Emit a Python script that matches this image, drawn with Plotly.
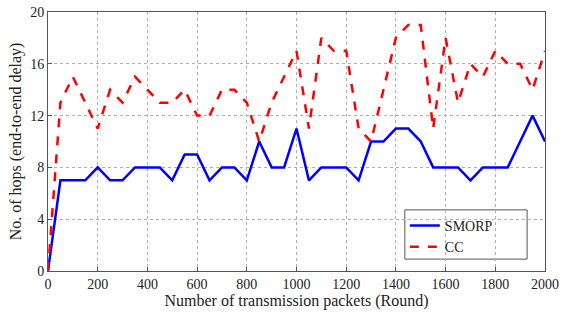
import plotly.graph_objects as go

rounds = list(range(0, 2001, 50))
smorp = [0, 7, 7, 7, 8, 7, 7, 8, 8, 8, 7, 9, 9, 7, 8, 8, 7, 10, 8, 8, 11,
         7, 8, 8, 8, 7, 10, 10, 11, 11, 10, 8, 8, 8, 7, 8, 8, 8, 10, 12, 10]
cc = [0, 13, 15, 13, 11, 14, 13, 15, 14, 13, 13, 14, 12, 12, 14, 14, 13, 10, 13, 15, 17,
      11, 18, 17, 17, 11, 10, 14, 18, 19, 19, 11, 18, 13, 16, 15, 17, 16, 16, 14, 17]
x_ticks = list(range(0, 2001, 200))
y_ticks = [0, 4, 8, 12, 16, 20]

SERIF = "Liberation Serif"

fig = go.Figure()
fig.add_trace(go.Scatter(x=rounds, y=smorp, mode="lines", name="SMORP",
                         line=dict(color="#0000ff", width=2.5)))
fig.add_trace(go.Scatter(x=rounds, y=cc, mode="lines", name="CC",
                         line=dict(color="#ff0000", width=2.5, dash="dash")))

axis_common = dict(showgrid=True, gridcolor="#b0b0b0", griddash="dot", gridwidth=1,
                   showline=True, linecolor="#555555", linewidth=1, mirror=True,
                   ticks="inside", ticklen=4, tickcolor="#555555", zeroline=False,
                   automargin=False, ticklabeloverflow="allow",
                   tickfont=dict(family=SERIF, size=14, color="#222222"))
fig.update_xaxes(range=[0, 2000], tickvals=x_ticks,
                 title=dict(text="Number of transmission packets (Round)",
                            font=dict(family=SERIF, size=16, color="#222222"), standoff=2),
                 **axis_common)
fig.update_yaxes(range=[0, 20], tickvals=y_ticks,
                 title=dict(text="No. of hops (end-to-end delay)",
                            font=dict(family=SERIF, size=16, color="#222222"), standoff=4),
                 **axis_common)

# legend frame (white box with border) drawn as a shape under the data
fig.add_shape(type="rect", xref="paper", yref="paper",
              x0=0.718, x1=0.964, y0=0.046, y1=0.236,
              fillcolor="white", line=dict(color="#555555", width=1), layer="below")

fig.update_layout(
    width=566, height=318,
    margin=dict(l=48, r=21, t=12, b=47),
    paper_bgcolor="white", plot_bgcolor="white",
    font=dict(family=SERIF, color="#222222"),
    showlegend=True,
    legend=dict(x=0.718, y=0.236, xanchor="left", yanchor="top",
                bgcolor="rgba(0,0,0,0)", borderwidth=0,
                font=dict(family=SERIF, size=14), tracegroupgap=2),
)

fig.write_html("out.html",
               config={"displayModeBar": False},
               post_script="document.body.style.margin='0';document.body.style.padding='0';")
